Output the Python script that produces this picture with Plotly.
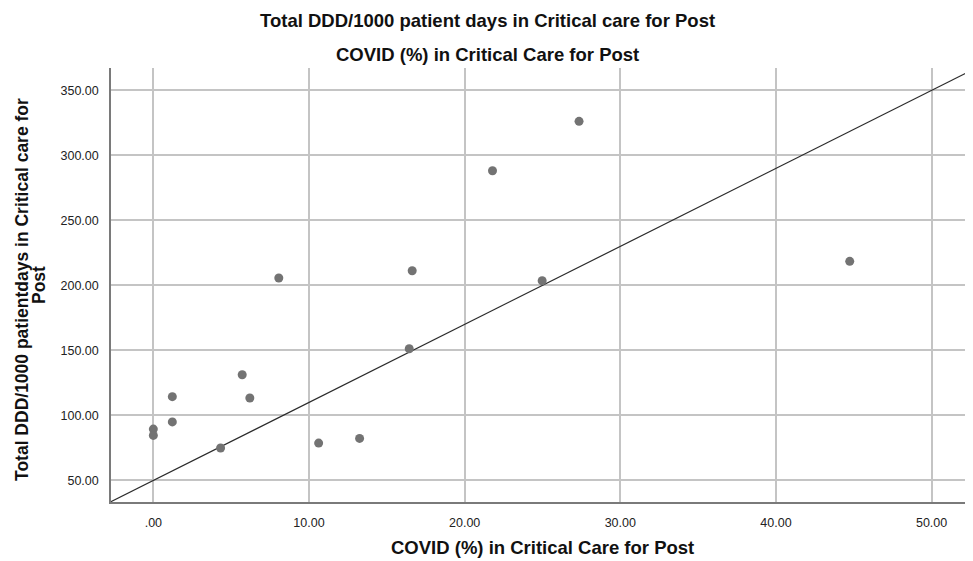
import plotly.graph_objects as go

# Data
covid_pct = [0.0, 0.0, 1.22, 1.22, 4.32, 5.71, 6.20, 8.06, 10.62, 13.25,
             16.44, 16.63, 21.79, 24.98, 27.35, 44.74]
ddd_per_1000 = [89.5, 84.6, 114.4, 95.0, 74.9, 131.3, 113.4, 205.7, 78.7, 82.3,
                151.3, 211.3, 288.2, 203.6, 326.2, 218.5]

x_ticks = [0, 10, 20, 30, 40, 50]
x_tick_labels = [".00", "10.00", "20.00", "30.00", "40.00", "50.00"]
y_ticks = [50, 100, 150, 200, 250, 300, 350]
y_tick_labels = ["50.00", "100.00", "150.00", "200.00", "250.00", "300.00", "350.00"]

x_range = [-2.72, 52.66]
y_range = [33.4, 367.2]

# Reference/fit line parameters
fit_intercept = 50.0
fit_slope = 6.0

title_line1 = "Total DDD/1000 patient days in Critical care for Post"
title_line2 = "COVID (%) in Critical Care for Post"
x_title = "COVID (%) in Critical Care for Post"
y_title_line1 = "Total DDD/1000 patientdays in Critical care for"
y_title_line2 = "Post"

FONT = "Liberation Sans, Arial, sans-serif"

fig = go.Figure()

fit_x = [x_range[0], x_range[1]]
fit_y = [fit_intercept + fit_slope * v for v in fit_x]
fig.add_trace(go.Scatter(x=fit_x, y=fit_y, mode="lines",
                         line=dict(color="#2b2b2b", width=1.2),
                         hoverinfo="skip", showlegend=False))

fig.add_trace(go.Scatter(x=covid_pct, y=ddd_per_1000, mode="markers",
                         marker=dict(size=9, color="#737373", line=dict(width=0)),
                         showlegend=False))

# page body has an 8px margin: compensate so the plot sits where the reference's does
W, H = 965, 553
L, R, T, B = 103, 0, 60, 59
pw = W - L - R

TITLE_FONT = dict(size=18.5, family=FONT, color="#111")
YT_FONT = dict(size=17.5, family=FONT, color="#111")

fig.update_layout(
    width=W, height=H,
    margin=dict(l=L, r=R, t=T, b=B, pad=0),
    paper_bgcolor="white", plot_bgcolor="white",
    font=dict(family=FONT, color="#222222"),
    xaxis=dict(range=x_range, tickvals=x_ticks, ticktext=x_tick_labels,
               showgrid=True, gridcolor="#c4c4c4", gridwidth=1.5,
               showline=True, linecolor="#7a7a7a", linewidth=1.5,
               zeroline=False, ticks="", tickfont=dict(size=12.5, color="#222"),
               ticklabelstandoff=8),
    yaxis=dict(range=y_range, tickvals=y_ticks, ticktext=y_tick_labels,
               showgrid=True, gridcolor="#c4c4c4", gridwidth=1.5,
               showline=True, linecolor="#7a7a7a", linewidth=1.5,
               zeroline=False, ticks="", tickfont=dict(size=12.5, color="#222"),
               ticklabelstandoff=8),
    annotations=[
        dict(text="<b>" + title_line1 + "</b>", xref="paper", yref="paper",
             x=(479 - L) / pw, y=1, yshift=48, xanchor="center", yanchor="middle",
             showarrow=False, font=TITLE_FONT),
        dict(text="<b>" + title_line2 + "</b>", xref="paper", yref="paper",
             x=(479 - L) / pw, y=1, yshift=14, xanchor="center", yanchor="middle",
             showarrow=False, font=TITLE_FONT),
        dict(text="<b>" + x_title + "</b>", xref="paper", yref="paper",
             x=0.5, y=0, yshift=-45, xanchor="center", yanchor="middle",
             showarrow=False, font=TITLE_FONT),
        dict(text="<b>" + y_title_line1 + "</b>", xref="paper", yref="paper",
             x=0, y=0.5, xshift=-89, yshift=-5, xanchor="center", yanchor="middle",
             textangle=-90, showarrow=False, font=YT_FONT),
        dict(text="<b>" + y_title_line2 + "</b>", xref="paper", yref="paper",
             x=0, y=0.5, xshift=-72, xanchor="center", yanchor="middle",
             textangle=-90, showarrow=False, font=YT_FONT),
    ],
)

fig.write_html("out.html")
